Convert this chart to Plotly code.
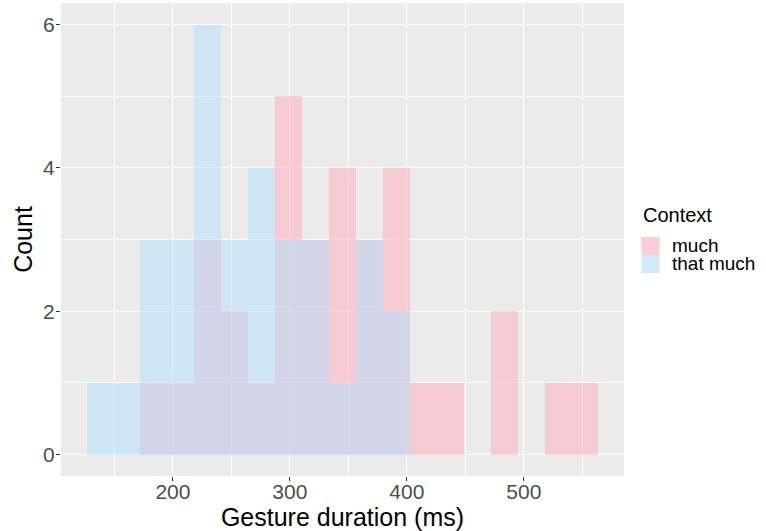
import plotly.graph_objects as go

# ---- data ----
bin_start = 126.2          # left edge of first bin (ms)
bin_width = 23.03          # histogram bin width (ms)
much_counts = [0, 0, 1, 1, 3, 2, 1, 5, 3, 4, 3, 4, 1, 1, 0, 2, 0, 1, 1]
that_much_counts = [1, 1, 3, 3, 6, 3, 4, 3, 3, 1, 3, 2, 0, 0, 0, 0, 0, 0, 0]
series_names = ["much", "that much"]
x_ticks = [200, 300, 400, 500]
y_ticks = [0, 2, 4, 6]

centers = [bin_start + bin_width * (i + 0.5) for i in range(len(much_counts))]

PINK = "rgba(255,169,185,0.5)"
BLUE = "rgba(175,223,253,0.5)"
FONT = "Liberation Sans, Arial, sans-serif"

fig = go.Figure()
fig.add_trace(go.Bar(x=centers, y=much_counts, width=bin_width, name=series_names[0],
                     marker=dict(color=PINK, line=dict(width=0)), showlegend=False))
fig.add_trace(go.Bar(x=centers, y=that_much_counts, width=bin_width, name=series_names[1],
                     marker=dict(color=BLUE, line=dict(width=0)), showlegend=False))

# panel geometry in pixels
L, R, T, B = 61, 624, 3, 476
W, H = 766, 531
pw, ph = R - L, B - T

def px(x):
    return (x - L) / pw

def py(y):
    return (B - y) / ph

x_lo = bin_start
x_hi = bin_start + bin_width * len(much_counts)
pad = 0.05 * (x_hi - x_lo)
ymax = max(max(much_counts), max(that_much_counts))

fig.update_layout(
    width=W, height=H,
    margin=dict(l=L, r=W - R, t=T, b=H - B, pad=0),
    paper_bgcolor="white", plot_bgcolor="#EBEBEB",
    barmode="overlay", bargap=0,
    font=dict(family=FONT, color="black"),
    showlegend=False,
    xaxis=dict(
        range=[x_lo - pad, x_hi + pad], tickvals=x_ticks, automargin=False,
        ticks="outside", ticklen=4, tickwidth=1, tickcolor="#333333",
        tickfont=dict(size=21, color="#4D4D4D"), ticklabelstandoff=-7,
        showgrid=True, gridcolor="white", gridwidth=1.2, zeroline=False,
        minor=dict(dtick=50, tick0=150, showgrid=True, gridcolor="white", gridwidth=0.6, ticks=""),
        title=dict(text="Gesture duration (ms)", font=dict(size=25, color="black"), standoff=4),
        showline=False,
    ),
    yaxis=dict(
        range=[-0.05 * ymax, ymax * 1.05], tickvals=y_ticks, automargin=False,
        ticks="outside", ticklen=4, tickwidth=1, tickcolor="#333333",
        tickfont=dict(size=21, color="#4D4D4D"), ticklabelstandoff=-3,
        showgrid=True, gridcolor="white", gridwidth=1.2, zeroline=False,
        minor=dict(dtick=1, tick0=1, showgrid=True, gridcolor="white", gridwidth=0.6, ticks=""),
        title=dict(text="Count", font=dict(size=25, color="black"), standoff=3),
        showline=False,
    ),
)

# ---- legend (ggplot style) ----
key_x0, key_x1 = 641.5, 659.5
keys = [(237, 255, PINK), (255, 273, BLUE)]
for (y0, y1, col), name in zip(keys, series_names):
    fig.add_shape(type="rect", xref="paper", yref="paper",
                  x0=px(key_x0), x1=px(key_x1), y0=py(y1), y1=py(y0),
                  fillcolor="#F2F2F2", line=dict(width=0), layer="above")
    fig.add_shape(type="rect", xref="paper", yref="paper",
                  x0=px(key_x0), x1=px(key_x1), y0=py(y1), y1=py(y0),
                  fillcolor=col, line=dict(width=0), layer="above")
    fig.add_annotation(x=px(670.5), y=py((y0 + y1) / 2 - 1), xref="paper", yref="paper",
                       text=name, showarrow=False, xanchor="left", yanchor="middle",
                       height=17, borderpad=0, valign="middle",
                       font=dict(size=19, color="black", family=FONT))
fig.add_annotation(x=px(641), y=py(215), xref="paper", yref="paper",
                   text="Context", showarrow=False, xanchor="left", yanchor="middle",
                   font=dict(size=20, color="black", family=FONT))

fig.write_html("out.html")
